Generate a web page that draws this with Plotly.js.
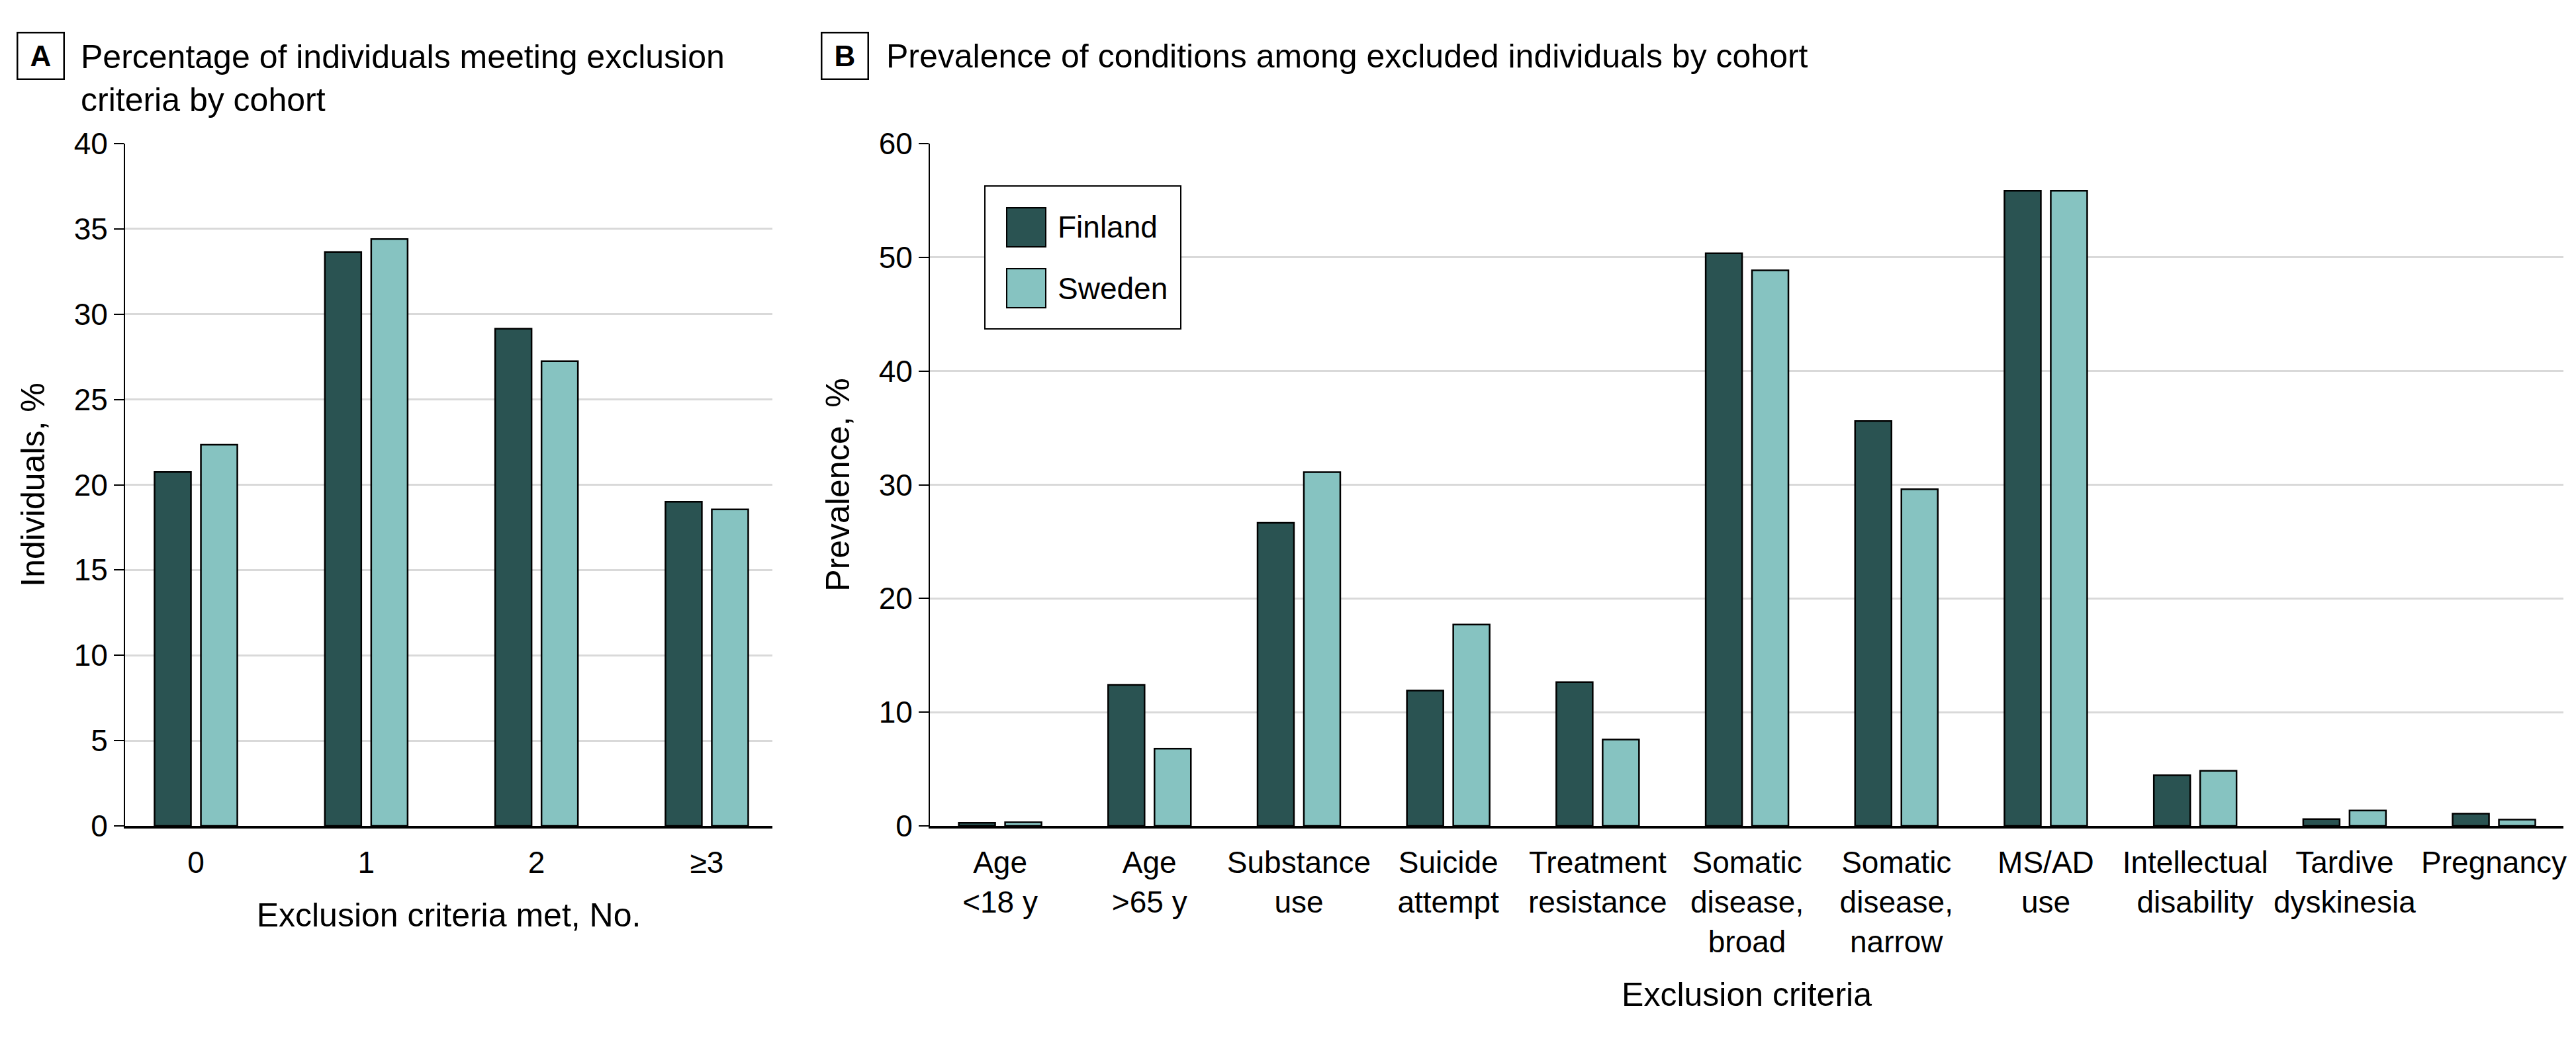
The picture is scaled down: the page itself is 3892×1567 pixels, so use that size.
<!DOCTYPE html>
<html>
<head>
<meta charset="utf-8">
<script src="https://cdn.plot.ly/plotly-3.0.1.min.js"></script>
<style>
  body { margin: 0; background: #fff; }
  #plot { width: 3892px; height: 1567px; }
</style>
</head>
<body>
<div id="plot"></div>
<script>
// panel A: number of exclusion criteria met
var countCats = ["0", "1", "2", "\u22653"];
var countFinland = [20.75, 33.65, 29.15, 19.0];
var countSweden = [22.35, 34.4, 27.25, 18.55];

// panel B: prevalence of each condition
var critCats = ["Age <18 y", "Age >65 y", "Substance use", "Suicide attempt", "Treatment resistance",
  "Somatic disease, broad", "Somatic disease, narrow", "MS/AD use", "Intellectual disability",
  "Tardive dyskinesia", "Pregnancy"];
var critLabels = ["Age<br>&lt;18 y", "Age<br>&gt;65 y", "Substance<br>use", "Suicide<br>attempt",
  "Treatment<br>resistance", "Somatic<br>disease,<br>broad", "Somatic<br>disease,<br>narrow",
  "MS/AD<br>use", "Intellectual<br>disability", "Tardive<br>dyskinesia", "Pregnancy"];
var critFinland = [0.28, 12.4, 26.65, 11.9, 12.65, 50.35, 35.6, 55.85, 4.45, 0.6, 1.07];
var critSweden = [0.32, 6.8, 31.1, 17.7, 7.6, 48.85, 29.6, 55.85, 4.85, 1.36, 0.55];

var finlandColor = "#2a5352";
var swedenColor = "#86c3c1";
var font = "Liberation Sans, Arial, sans-serif";

var W = 3892, H = 1567;
// pixel helpers for the decorations
function px(x) { return x / W; }
function py(y) { return 1 - y / H; }

// bar width / gap in category units for each panel
var barA = 0.2138, halfGapA = 0.0292;
var barB = 0.2436, halfGapB = 0.0332;

var outline = { color: "#000", width: 2.5 };

var traces = [
  { type: "bar", x: countCats, y: countFinland, name: "Finland", xaxis: "x", yaxis: "y",
    width: barA, offset: -(barA + halfGapA), marker: { color: finlandColor, line: outline } },
  { type: "bar", x: countCats, y: countSweden, name: "Sweden", xaxis: "x", yaxis: "y",
    width: barA, offset: halfGapA, marker: { color: swedenColor, line: outline } },
  { type: "bar", x: critCats, y: critFinland, name: "Finland", xaxis: "x2", yaxis: "y2",
    width: barB, offset: -(barB + halfGapB), marker: { color: finlandColor, line: outline } },
  { type: "bar", x: critCats, y: critSweden, name: "Sweden", xaxis: "x2", yaxis: "y2",
    width: barB, offset: halfGapB, marker: { color: swedenColor, line: outline } }
];

var tickFont = { family: font, size: 46, color: "#000" };
var titleFont = { family: font, size: 50, color: "#000" };

function xAxis(domain, range, cats, labels, title, standoff) {
  return {
    domain: domain, range: range, type: "category",
    tickmode: "array", tickvals: cats, ticktext: labels,
    showgrid: false, zeroline: false,
    showline: true, linecolor: "#000", linewidth: 4,
    ticks: "outside", ticklen: 12, tickcolor: "rgba(0,0,0,0)",
    tickfont: tickFont,
    title: { text: title, font: titleFont, standoff: standoff },
    fixedrange: true
  };
}

function yAxis(anchor, range, dtick, title, standoff) {
  return {
    anchor: anchor, domain: [py(1248), py(217)], range: range, dtick: dtick,
    showgrid: true, gridcolor: "#d9d9d9", gridwidth: 3,
    zeroline: false, showline: true, linecolor: "#000", linewidth: 2,
    ticks: "outside", ticklen: 15, tickwidth: 2, tickcolor: "#000",
    tickfont: tickFont,
    title: { text: title, font: titleFont, standoff: standoff },
    fixedrange: true
  };
}

var layout = {
  width: W, height: H,
  margin: { l: 0, r: 0, t: 0, b: 0 },
  paper_bgcolor: "#fff", plot_bgcolor: "rgba(0,0,0,0)",
  showlegend: false,
  barmode: "overlay",
  font: { family: font, color: "#000" },
  xaxis: xAxis([px(189), px(1167)], [-0.416, 3.385], countCats, countCats,
    "Exclusion criteria met, No.", 38),
  yaxis: yAxis("x", [0, 40], 5, "Individuals, %", 28),
  xaxis2: xAxis([px(1405), px(3873)], [-0.47, 10.465], critCats, critLabels,
    "Exclusion criteria", 38),
  yaxis2: yAxis("x2", [0, 60], 10, "Prevalence, %", 28),
  shapes: [
    // legend box and swatches
    { type: "rect", xref: "paper", yref: "paper", x0: px(1488), x1: px(1784), y0: py(497), y1: py(281),
      line: { color: "#000", width: 2 }, fillcolor: "#fff" },
    { type: "rect", xref: "paper", yref: "paper", x0: px(1521), x1: px(1580), y0: py(373), y1: py(314),
      line: { color: "#000", width: 2 }, fillcolor: finlandColor },
    { type: "rect", xref: "paper", yref: "paper", x0: px(1521), x1: px(1580), y0: py(465), y1: py(406),
      line: { color: "#000", width: 2 }, fillcolor: swedenColor }
  ],
  annotations: [
    { text: "<b>A</b>", xref: "paper", yref: "paper", x: px(61), y: py(85), xanchor: "center", yanchor: "middle",
      showarrow: false, font: { family: font, size: 44, color: "#000" },
      bordercolor: "#000", borderwidth: 2.5, width: 66, height: 66 },
    { text: "Percentage of individuals meeting exclusion<br>criteria by cohort", xref: "paper", yref: "paper",
      x: px(120), y: py(56), xanchor: "left", yanchor: "top", align: "left",
      showarrow: false, font: titleFont },
    { text: "<b>B</b>", xref: "paper", yref: "paper", x: px(1276), y: py(85), xanchor: "center", yanchor: "middle",
      showarrow: false, font: { family: font, size: 44, color: "#000" },
      bordercolor: "#000", borderwidth: 2.5, width: 66, height: 66 },
    { text: "Prevalence of conditions among excluded individuals by cohort", xref: "paper", yref: "paper",
      x: px(1337), y: py(85), xanchor: "left", yanchor: "middle", align: "left",
      showarrow: false, font: titleFont },
    { text: "Finland", xref: "paper", yref: "paper", x: px(1596), y: py(343), xanchor: "left", yanchor: "middle",
      showarrow: false, font: { family: font, size: 46, color: "#000" } },
    { text: "Sweden", xref: "paper", yref: "paper", x: px(1596), y: py(436), xanchor: "left", yanchor: "middle",
      showarrow: false, font: { family: font, size: 46, color: "#000" } }
  ]
};

Plotly.newPlot("plot", traces, layout, { staticPlot: true });
</script>
</body>
</html>
